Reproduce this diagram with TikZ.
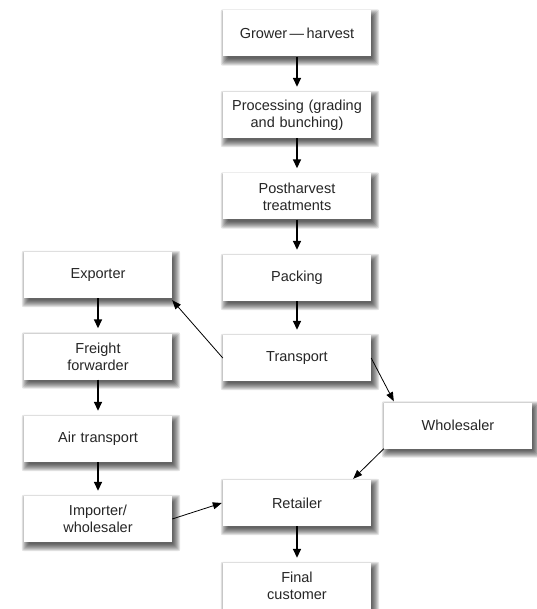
\documentclass[tikz,border=0pt]{standalone}
\usepackage{fontspec}
\setmainfont{Liberation Sans}
\usetikzlibrary{arrows.meta,calc,backgrounds}
\begin{document}
\begin{tikzpicture}[x=1pt,y=-1pt,
  box/.style={fill=white, minimum width=148pt, minimum height=46pt, inner sep=2pt,
    text width=140pt, align=center, font=\fontsize{14.5}{17}\selectfont, text=black!85},
  shade/.style={fill=black, opacity=0.11},
  flow/.style={line width=1.6pt, -{Triangle[length=9pt,width=8pt]}, shorten >=5pt},
  side/.style={line width=0.8pt, -{Triangle[length=9pt,width=7pt]}}]
\useasboundingbox (0,0) rectangle (536,609);
\node[box] (grow) at (297,33.5) {Grower\,—\,harvest};
\node[box] (proc) at (297,115) {Processing (grading\\and bunching)};
\node[box] (post) at (297,196.5) {Postharvest\\treatments};
\node[box] (pack) at (297,278) {Packing};
\node[box] (tran) at (297,358) {Transport};
\node[box] (ret) at (297,503) {Retailer};
\node[box] (fin) at (297,586) {Final\\customer};
\node[box] (exp) at (98,275) {Exporter};
\node[box] (frei) at (98,356.5) {Freight\\forwarder};
\node[box] (air) at (98,439) {Air transport};
\node[box] (imp) at (98,519) {Importer/\\wholesaler};
\node[box] (who) at (458,425.5) {Wholesaler};
\begin{scope}[on background layer]
\foreach \n in {grow,proc,post,pack,tran,ret,fin,exp,frei,air,imp,who}{
  \foreach \e in {5,4,3,2,1,0,-1,-2}{
    \fill[shade, rounded corners=2pt]
      ($(\n.north west)+(3-\e,4-\e)$) rectangle ($(\n.south east)+(3+\e,4+\e)$);
  }
}
\end{scope}
\draw[flow] (grow) -- (proc);
\draw[flow] (proc) -- (post);
\draw[flow] (post) -- (pack);
\draw[flow] (pack) -- (tran);
\draw[flow] (ret) -- (fin);
\draw[flow] (exp) -- (frei);
\draw[flow] (frei) -- (air);
\draw[flow] (air) -- (imp);
\draw[side] (tran.west) -- ($(exp.south east)+(0,2)$);
\draw[side] (tran.east) -- ($(who.north west)+(10,-1)$);
\draw[side] (who.south west) -- ($(ret.north east)+(-18,-1)$);
\draw[side] (imp.east) -- ($(ret.west)+(-1,0)$);
\end{tikzpicture}
\end{document}
